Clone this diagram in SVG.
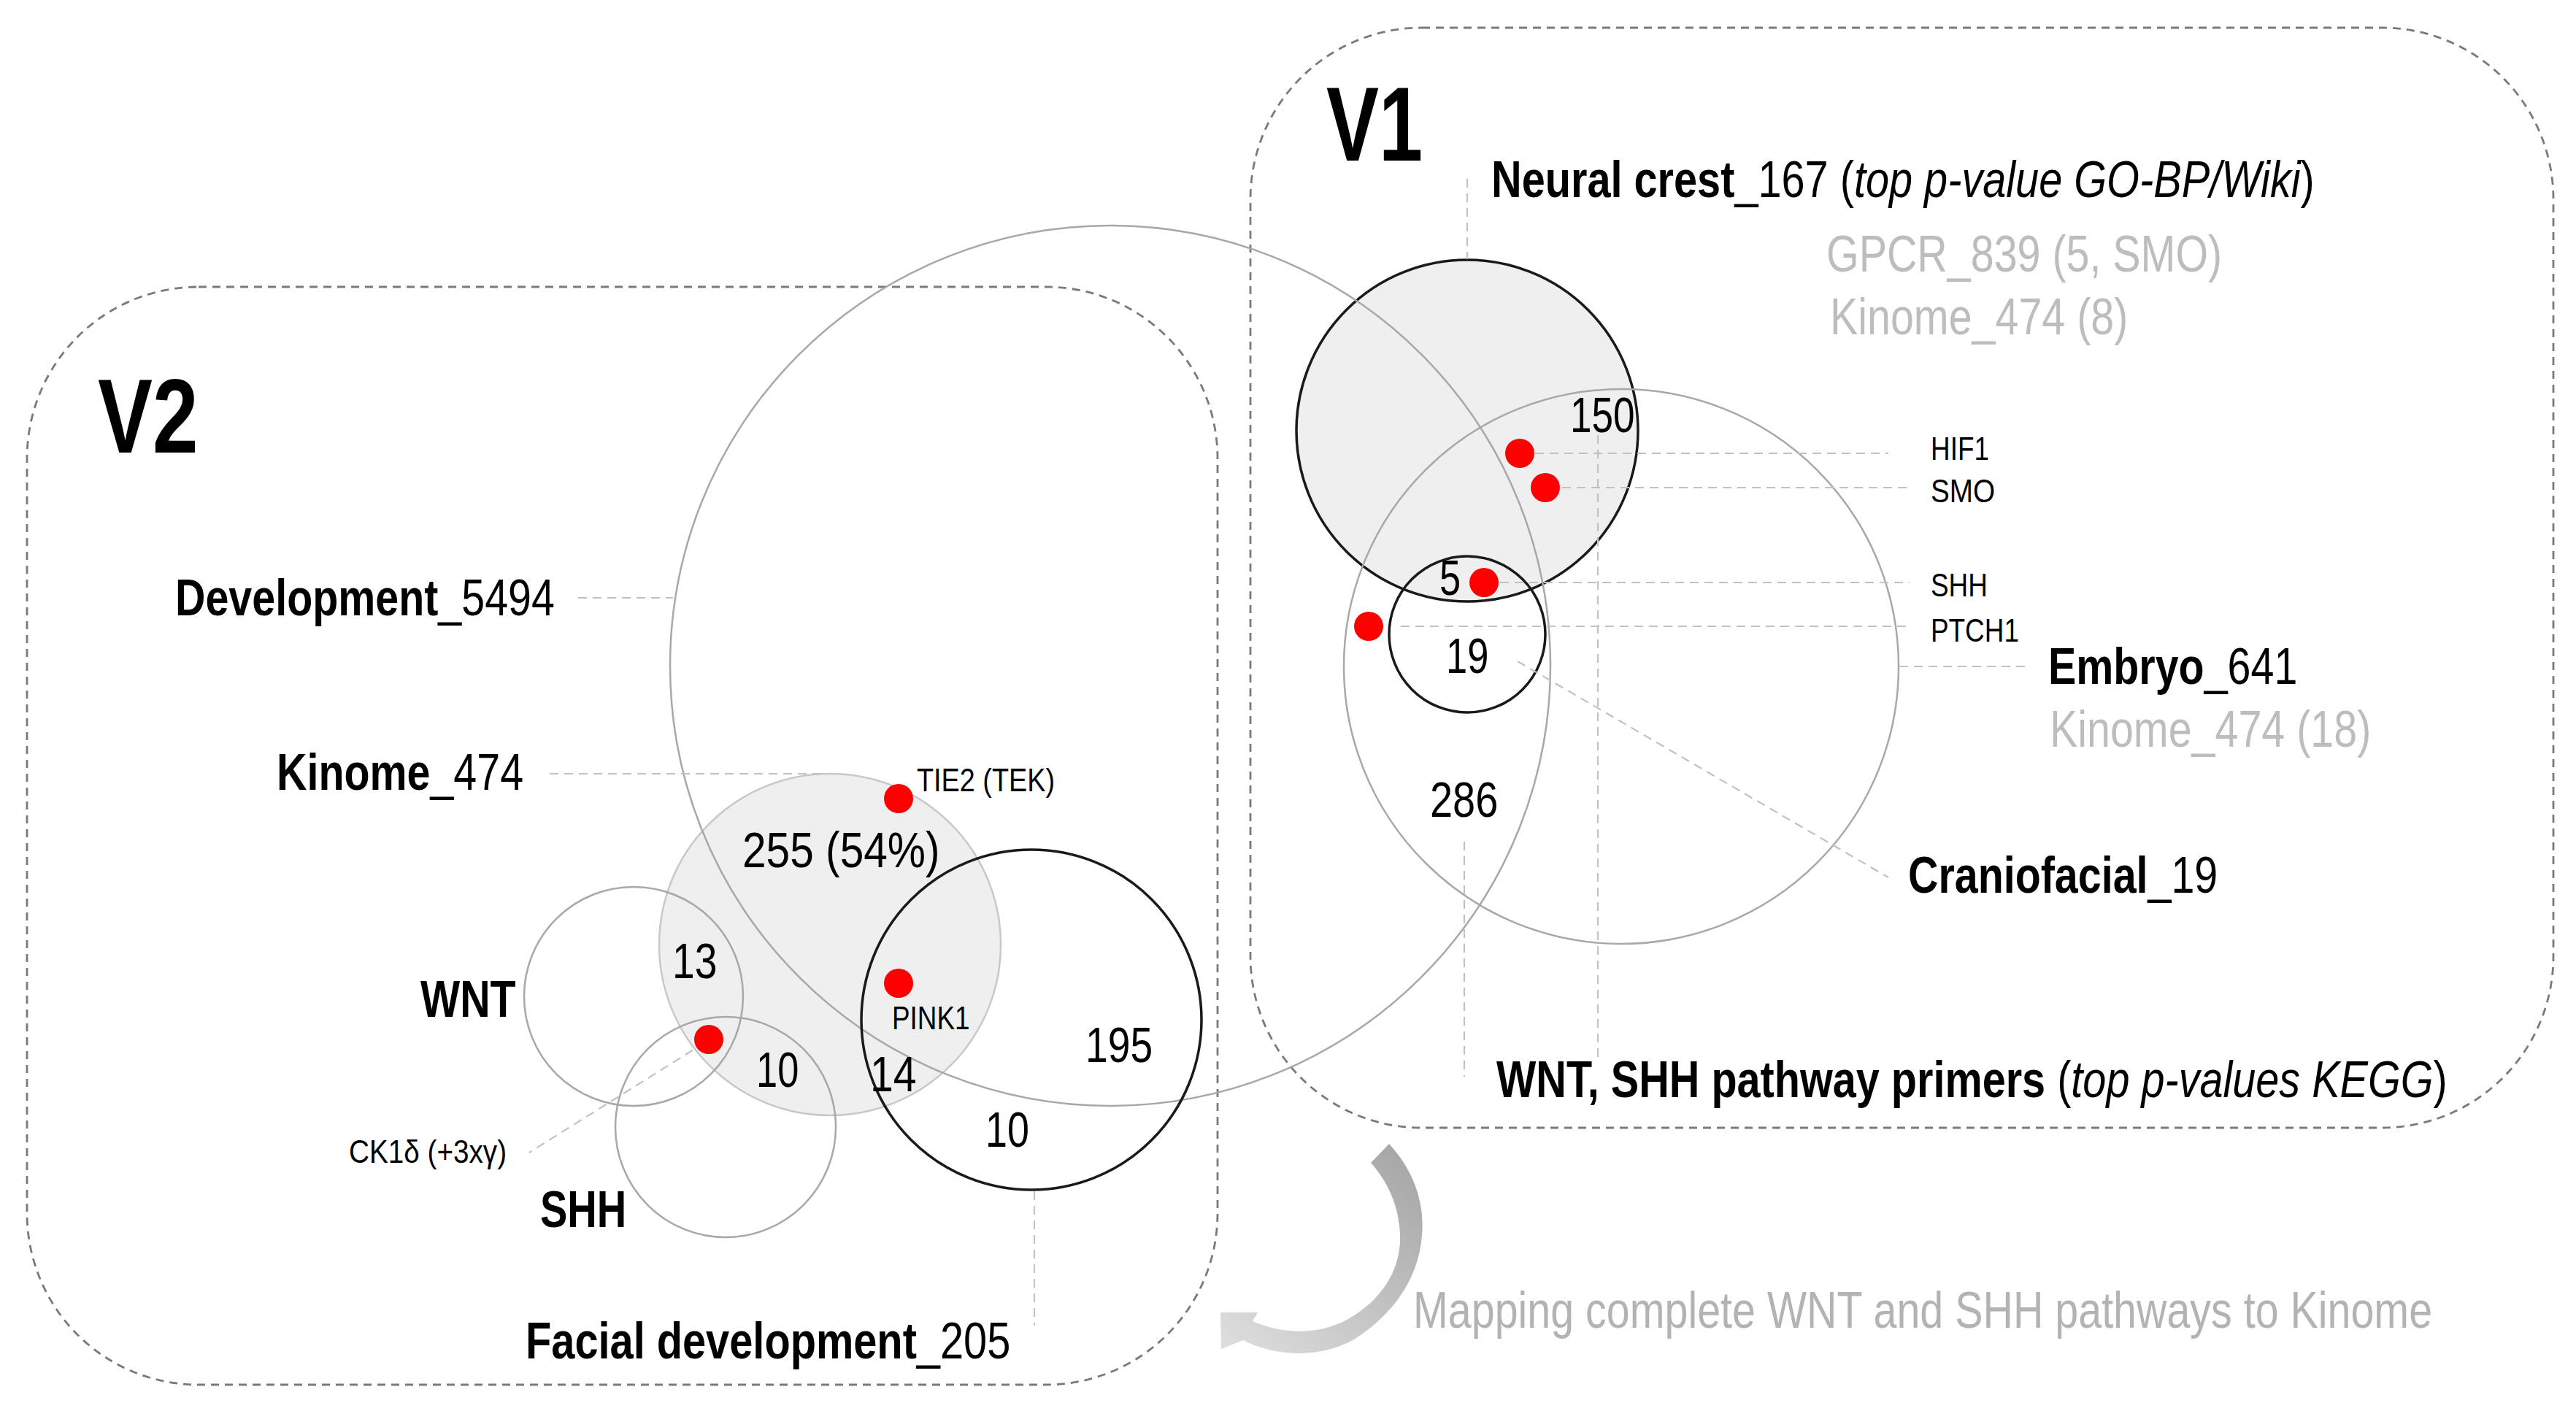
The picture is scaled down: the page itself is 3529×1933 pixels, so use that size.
<svg xmlns="http://www.w3.org/2000/svg" width="3529" height="1933" viewBox="0 0 3529 1933">
<style>
  text { font-family: "Liberation Sans", Arial, sans-serif; fill: #000; }
  .title { font-size: 144px; font-weight: bold; }
  .lbl { font-size: 70px; }
  .b { font-weight: bold; }
  .i { font-style: italic; }
  .num { font-size: 69px; }
  .gene { font-size: 45px; }
  .gray { fill: #bdbdbd; }
  .map { fill: #b3b3b3; font-size: 70px; }
  .box { fill: none; stroke: #7a7a7a; stroke-width: 2.8; stroke-dasharray: 11 8; }
  .thin { fill: none; stroke: #a8a8a8; stroke-width: 2.5; }
  .thick { fill: none; stroke: #1a1a1a; stroke-width: 3.5; }
  .shade { fill: #efefef; }
  .lead { fill: none; stroke: #c2c2c2; stroke-width: 2.2; stroke-dasharray: 12 8; }
  .dot { fill: #ff0000; }
</style>
<defs>
  <linearGradient id="arrowGrad" gradientUnits="userSpaceOnUse" x1="1930" y1="1580" x2="1700" y2="1850">
    <stop offset="0" stop-color="#a6a6a6"/>
    <stop offset="1" stop-color="#dcdcdc"/>
  </linearGradient>
</defs>
<rect width="3529" height="1933" fill="#ffffff"/>

<g id="v2-group">
  <rect class="box" x="37" y="393" width="1631" height="1504" rx="235" ry="235"/>
  <text class="title" transform="translate(134 620) scale(0.78 1)">V2</text>
</g>
<g id="v1-group">
  <rect class="box" x="1713" y="38" width="1785" height="1507" rx="235" ry="235"/>
  <text class="title" transform="translate(1817 220) scale(0.75 1)">V1</text>
</g>

<g id="kinome-v2">
  <circle class="shade" cx="1137" cy="1294" r="234"/>
  <circle fill="none" stroke="#c8c8c8" stroke-width="2.5" cx="1137" cy="1294" r="234"/>
  <text class="lbl" transform="translate(379 1082) scale(0.82 1)"><tspan class="b">Kinome</tspan>_474</text>
</g>
<g id="neural-crest">
  <circle class="shade" cx="2010" cy="590" r="234"/>
  <circle class="thick" cx="2010" cy="590" r="234"/>
  <text class="lbl" transform="translate(2043 270) scale(0.824 1)"><tspan class="b">Neural crest</tspan>_167 (<tspan class="i">top p-value GO-BP/Wiki</tspan>)</text>
  <text class="lbl gray" transform="translate(2502 372) scale(0.82 1)">GPCR_839 (5, SMO)</text>
  <text class="lbl gray" transform="translate(2507 458) scale(0.82 1)">Kinome_474 (8)</text>
</g>
<g id="development">
  <circle class="thin" cx="1521" cy="912" r="603"/>
  <text class="lbl" transform="translate(240 843) scale(0.82 1)"><tspan class="b">Development</tspan>_5494</text>
</g>
<g id="wnt">
  <circle class="thin" cx="868" cy="1365" r="150"/>
  <text class="lbl b" transform="translate(576 1393) scale(0.82 1)">WNT</text>
</g>
<g id="shh">
  <circle class="thin" cx="994" cy="1544" r="151"/>
  <text class="lbl b" transform="translate(740 1681) scale(0.8 1)">SHH</text>
</g>
<g id="facial-development">
  <circle class="thick" cx="1413" cy="1397" r="233"/>
  <text class="lbl" transform="translate(720 1861) scale(0.825 1)"><tspan class="b">Facial development</tspan>_205</text>
</g>
<g id="embryo">
  <circle class="thin" cx="2221" cy="913" r="380"/>
  <text class="lbl" transform="translate(2806 937) scale(0.82 1)"><tspan class="b">Embryo</tspan>_641</text>
  <text class="lbl gray" transform="translate(2808 1023) scale(0.82 1)">Kinome_474 (18)</text>
</g>
<g id="craniofacial">
  <circle class="thick" cx="2010" cy="869" r="107"/>
  <text class="lbl" transform="translate(2614 1223) scale(0.82 1)"><tspan class="b">Craniofacial</tspan>_19</text>
</g>
<g id="pathway-primers">
  <text class="lbl" transform="translate(2050 1503) scale(0.823 1)"><tspan class="b">WNT, SHH pathway primers</tspan> (<tspan class="i">top p-values KEGG</tspan>)</text>
</g>

<g id="connectors">
  <line class="lead" x1="792" y1="819" x2="922" y2="819"/>
  <line class="lead" x1="753" y1="1060" x2="1135" y2="1060"/>
  <line class="lead" x1="966" y1="1428" x2="725" y2="1579"/>
  <line class="lead" x1="1417" y1="1632" x2="1417" y2="1816"/>
  <line class="lead" x1="2010" y1="245" x2="2010" y2="355"/>
  <line class="lead" x1="2103" y1="621" x2="2587" y2="621"/>
  <line class="lead" x1="2140" y1="668" x2="2616" y2="668"/>
  <line class="lead" x1="2055" y1="798" x2="2616" y2="798"/>
  <line class="lead" x1="1919" y1="858" x2="2616" y2="858"/>
  <line class="lead" x1="2602" y1="913" x2="2779" y2="913"/>
  <line class="lead" x1="2079" y1="906" x2="2587" y2="1202"/>
  <line class="lead" x1="2006" y1="1153" x2="2006" y2="1475"/>
  <line class="lead" x1="2189" y1="596" x2="2189" y2="1455"/>
</g>

<g id="genes">
  <circle class="dot" cx="1231" cy="1094" r="20"/>
  <text class="gene" transform="translate(1256 1084) scale(0.84 1)">TIE2 (TEK)</text>
  <circle class="dot" cx="1231" cy="1347" r="20"/>
  <text class="gene" transform="translate(1222 1410) scale(0.82 1)">PINK1</text>
  <circle class="dot" cx="971" cy="1424" r="20"/>
  <text class="gene" transform="translate(478 1593) scale(0.86 1)">CK1δ (+3xγ)</text>
  <circle class="dot" cx="2082" cy="621" r="20"/>
  <text class="gene" transform="translate(2645 630) scale(0.82 1)">HIF1</text>
  <circle class="dot" cx="2117" cy="668" r="20"/>
  <text class="gene" transform="translate(2645 688) scale(0.86 1)">SMO</text>
  <circle class="dot" cx="2033" cy="798" r="20"/>
  <text class="gene" transform="translate(2645 817) scale(0.82 1)">SHH</text>
  <circle class="dot" cx="1875" cy="858" r="20"/>
  <text class="gene" transform="translate(2645 879) scale(0.82 1)">PTCH1</text>
</g>

<g id="counts">
  <text class="num" transform="translate(1017 1188) scale(0.85 1)">255 (54%)</text>
  <text class="num" transform="translate(921 1340) scale(0.8 1)">13</text>
  <text class="num" transform="translate(1036 1489) scale(0.76 1)">10</text>
  <text class="num" transform="translate(1192 1495) scale(0.83 1)">14</text>
  <text class="num" transform="translate(1487 1455) scale(0.8 1)">195</text>
  <text class="num" transform="translate(1350 1571) scale(0.78 1)">10</text>
  <text class="num" transform="translate(2151 592) scale(0.77 1)">150</text>
  <text class="num" transform="translate(1972 815) scale(0.76 1)">5</text>
  <text class="num" transform="translate(1981 922) scale(0.76 1)">19</text>
  <text class="num" transform="translate(1959 1119) scale(0.81 1)">286</text>
</g>

<g id="mapping">
  <path fill="url(#arrowGrad)" d="M 1903 1567 C 1938 1605 1952 1650 1948 1692 C 1944 1750 1910 1800 1855 1835 C 1810 1860 1750 1860 1703 1836 L 1673 1848 L 1672 1798 L 1723 1798 L 1716 1810 C 1760 1829 1808 1828 1845 1808 C 1895 1780 1920 1738 1918 1690 C 1916 1652 1902 1620 1878 1593 Z"/>
  <text class="map" transform="translate(1936 1819) scale(0.82 1)">Mapping complete WNT and SHH pathways to Kinome</text>
</g>
</svg>
